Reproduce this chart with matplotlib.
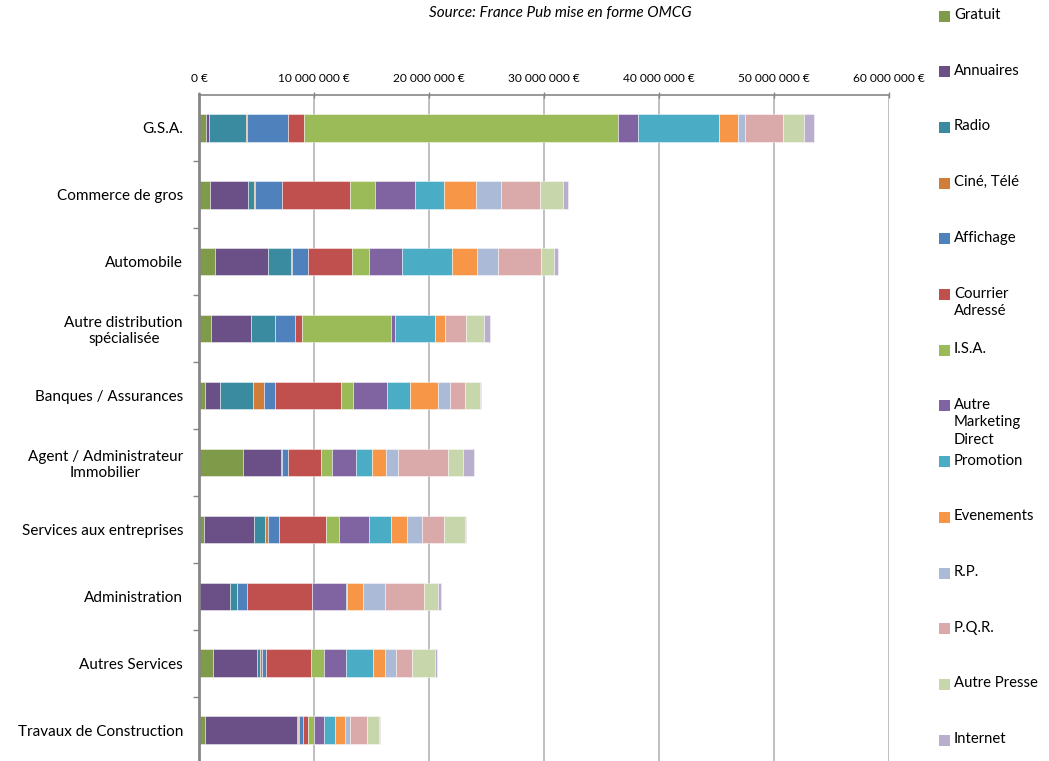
import matplotlib
matplotlib.use("Agg")
import matplotlib.pyplot as plt
from matplotlib.patches import Rectangle
from matplotlib.ticker import FuncFormatter, FixedLocator
import numpy as np

plt.rcParams['font.family'] = ['Lato', 'DejaVu Sans']

# sectors, top to bottom
categories = [
    "G.S.A.", "Commerce de gros", "Automobile", "Autre distribution\nspécialisée",
    "Banques / Assurances", "Agent / Administrateur\nImmobilier",
    "Services aux entreprises", "Administration", "Autres Services",
    "Travaux de Construction",
]

# spending per media, millions of euros (same order as categories)
gratuit      = [0.64, 0.92, 1.42, 1.07, 0.55, 3.85, 0.46, 0.00, 1.19, 0.55]
annuaires    = [0.25, 3.34, 4.57, 3.42, 1.25, 3.25, 4.29, 2.67, 3.82, 7.96]
radio        = [3.19, 0.53, 1.97, 2.11, 2.86, 0.08, 0.99, 0.63, 0.26, 0.14]
cine_tele    = [0.07, 0.05, 0.17, 0.03, 1.02, 0.05, 0.26, 0.00, 0.23, 0.05]
affichage    = [3.62, 2.39, 1.33, 1.71, 0.95, 0.52, 0.96, 0.84, 0.35, 0.30]
courrier     = [1.38, 5.89, 3.83, 0.63, 5.76, 2.90, 4.11, 5.67, 3.85, 0.52]
isa          = [27.27, 2.16, 1.47, 7.70, 1.02, 0.92, 1.10, 0.05, 1.18, 0.47]
autre_md     = [1.74, 3.48, 2.87, 0.41, 2.98, 2.09, 2.58, 2.96, 1.94, 0.86]
promotion    = [7.02, 2.52, 4.34, 3.41, 1.97, 1.39, 1.92, 0.05, 2.29, 0.96]
evenements   = [1.73, 2.80, 2.23, 0.87, 2.40, 1.22, 1.39, 1.39, 1.04, 0.87]
rp           = [0.54, 2.16, 1.79, 0.06, 1.10, 1.07, 1.33, 1.88, 0.96, 0.43]
pqr          = [3.37, 3.37, 3.76, 1.76, 1.25, 4.32, 1.89, 3.42, 1.44, 1.54]
autre_presse = [1.80, 2.02, 1.10, 1.57, 1.33, 1.28, 1.88, 1.18, 2.00, 0.98]
internet     = [0.86, 0.43, 0.41, 0.52, 0.12, 0.98, 0.09, 0.27, 0.14, 0.12]

series_names = ["Gratuit", "Annuaires", "Radio", "Ciné, Télé", "Affichage",
                "Courrier\nAdressé", "I.S.A.", "Autre\nMarketing\nDirect",
                "Promotion", "Evenements", "R.P.", "P.Q.R.", "Autre Presse",
                "Internet"]
series_values = [gratuit, annuaires, radio, cine_tele, affichage, courrier, isa,
                 autre_md, promotion, evenements, rp, pqr, autre_presse, internet]
colors = ["#7F9A48", "#6A5087", "#3B8BA0", "#CF7D38", "#4F81BD", "#C0504D",
          "#9BBB59", "#8064A2", "#4BACC6", "#F79646", "#AABAD7", "#D9AAA9",
          "#C8D6AC", "#B9AFCD"]

x_ticks = [0, 10, 20, 30, 40, 50, 60]

W, H = 1049, 761
fig = plt.figure(figsize=(W / 100, H / 100), dpi=100)
ax = fig.add_axes([199 / W, 1 - 763.5 / H, 690 / W, 669 / H])

y = np.arange(len(categories))
left = np.zeros(len(categories))
for name, vals, c in zip(series_names, series_values, colors):
    ax.barh(y, vals, left=left, height=0.41, color=c,
            edgecolor=(1, 1, 1, 0.45), linewidth=0.7, zorder=3)
    left += np.array(vals)

ax.set_xlim(0, 60)
ax.set_ylim(len(categories) - 0.5, -0.5)

# x axis on top
ax.xaxis.tick_top()
ax.set_xticks(x_ticks)
ax.xaxis.set_major_formatter(FuncFormatter(
    lambda v, p: "0 €" if v == 0 else f"{int(v * 1e6):,} €".replace(",", " ")))
ax.tick_params(axis='x', direction='inout', length=5, width=1, color='#868686',
               labelsize=8.6, pad=5, labelcolor='black')
ax.grid(axis='x', color='#BFBFBF', linewidth=1.4, zorder=0)

# y axis
ax.set_yticks(y)
ax.set_yticklabels(categories)
for t in ax.get_yticklabels():
    t.set_multialignment('center')
ax.yaxis.set_minor_locator(FixedLocator(np.arange(0.5, len(categories) - 0.5, 1)))
ax.tick_params(axis='y', which='major', length=0, pad=16 * 0.72, labelsize=11)
ax.tick_params(axis='y', which='minor', length=4, width=1, color='#868686')

for s in ['right', 'bottom']:
    ax.spines[s].set_visible(False)
ax.spines['top'].set_color('#868686')
ax.spines['top'].set_linewidth(1.2)
ax.spines['left'].set_color('#868686')
ax.spines['left'].set_linewidth(2)
ax.spines['left'].set_zorder(4)

fig.text(560 / W, 1 - 13 / H, "Source: France Pub mise en forme OMCG",
         ha='center', va='center', fontsize=11, style='italic')

# legend, evenly spaced entries like the original
for i, (name, c) in enumerate(zip(series_names, colors)):
    yc = 16 + i * 55.7
    fig.patches.append(Rectangle((939 / W, 1 - (yc + 5.5) / H), 11 / W, 11 / H,
                                 facecolor=c, transform=fig.transFigure,
                                 figure=fig))
    fig.text(954 / W, 1 - (yc - 8) / H, name, ha='left', va='top',
             fontsize=10.7, linespacing=1.3)

fig.savefig("out.png", dpi=100)
